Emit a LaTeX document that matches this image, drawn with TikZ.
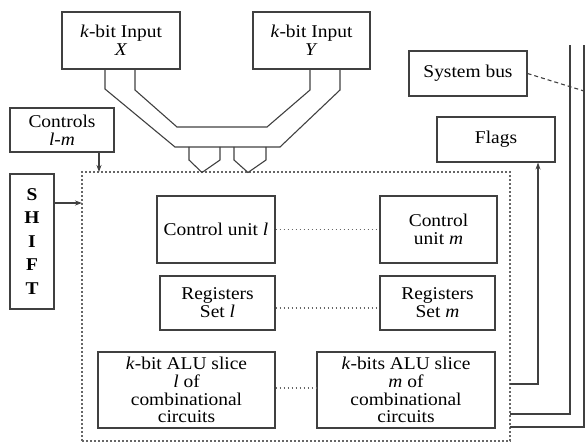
\documentclass[tikz,border=0pt]{standalone}
\usepackage{fontspec}
\setmainfont[FakeStretch=1.08]{Liberation Serif}
\usetikzlibrary{arrows.meta}
\begin{document}
\begin{tikzpicture}[x=1pt,y=-1pt,
  line join=miter,
  box/.style={draw=black!75,line width=1.1pt,align=center,inner sep=0pt,
    font=\fontsize{18}{17.8}\selectfont},
  wire/.style={draw=black!75,line width=1.1pt},
  dots/.style={draw=black!60,line width=1.2pt,dash pattern=on 1.6pt off 2.4pt},
  arr/.style={wire,-{Stealth[length=7pt,width=5pt]}}]
\useasboundingbox (0,0) rectangle (585,443);

% operand inputs
\node[box,minimum width=118,minimum height=57] (inx) at (121,40.5) {\textit{k}-bit Input\\\textit{X}};
\node[box,minimum width=117,minimum height=57] (iny) at (311.5,40.5) {\textit{k}-bit Input\\\textit{Y}};

% side boxes
\node[box,minimum width=118,minimum height=45] (bus) at (468,73.5) {System bus};
\node[box,minimum width=118,minimum height=45] (flags) at (496,139.5) {Flags};
\node[box,minimum width=104,minimum height=44] (ctrl) at (62,130) {Controls\\\textit{l-m}};
\node[box,minimum width=44,minimum height=135,font=\fontsize{18}{23.5}\selectfont\bfseries] (shift) at (32,241.5) {S\\H\\I\\F\\T};

% processing core (dotted boundary)
\node[dots,minimum width=428,minimum height=269,inner sep=0pt] (core) at (296,306.5) {};

\node[box,minimum width=118,minimum height=67] (cul) at (216,229.5) {Control unit \textit{l}};
\node[box,minimum width=115,minimum height=54] (regl) at (217.5,303) {Registers\\Set \textit{l}};
\node[box,minimum width=177,minimum height=76] (alul) at (186.5,390) {\textit{k}-bit ALU slice\\\textit{l} of\\combinational\\circuits};
\node[box,minimum width=117,minimum height=67] (cum) at (438.5,229.5) {Control\\unit \textit{m}};
\node[box,minimum width=115,minimum height=54] (regm) at (437.5,303) {Registers\\Set \textit{m}};
\node[box,minimum width=178,minimum height=76] (alum) at (406,390) {\textit{k}-bits ALU slice\\\textit{m} of\\combinational\\circuits};

% links between the two slices
\draw[dots] (cul.east) -- (cum.west);
\draw[dots] (regl.east |- 0,308) -- (regm.west |- 0,308);
\draw[dots] (alul.east |- 0,388) -- (alum.west |- 0,388);

% input bus merging into the core
\draw[wire] (105,69) -- (105,89) -- (175,147) -- (280,147) -- (340,90) -- (340,69);
\draw[wire] (135,69) -- (135,90) -- (177,127) -- (267,127) -- (310,90) -- (310,69);
\draw[wire] (189,147) -- (189,160) -- (202,172.5) -- (220,160) -- (220,147);
\draw[wire] (234,147) -- (234,160) -- (248,172.5) -- (266,160) -- (266,147);

% control inputs
\coordinate (cin) at (99,172);
\coordinate (sin) at (82,203);
\draw[arr] (ctrl.south -| cin) -- (cin);
\draw[arr] (shift.east |- sin) -- (sin);

% outputs to flags and system bus
\coordinate (fo) at (510,384);
\coordinate (fup) at (538,384);
\coordinate (b1) at (510,414);
\coordinate (b1c) at (570,414);
\coordinate (b1t) at (570,45);
\coordinate (b2) at (510,427);
\coordinate (b2c) at (584,427);
\coordinate (b2t) at (584,45);
\coordinate (bj) at (584,91);
\draw[arr] (fo) -- (fup) -- (flags.south -| fup);
\draw[wire] (b1) -- (b1c) -- (b1t);
\draw[wire] (b2) -- (b2c) -- (b2t);
\draw[wire,dash pattern=on 4pt off 3pt] (bus.east) -- (bj);
\end{tikzpicture}
\end{document}
